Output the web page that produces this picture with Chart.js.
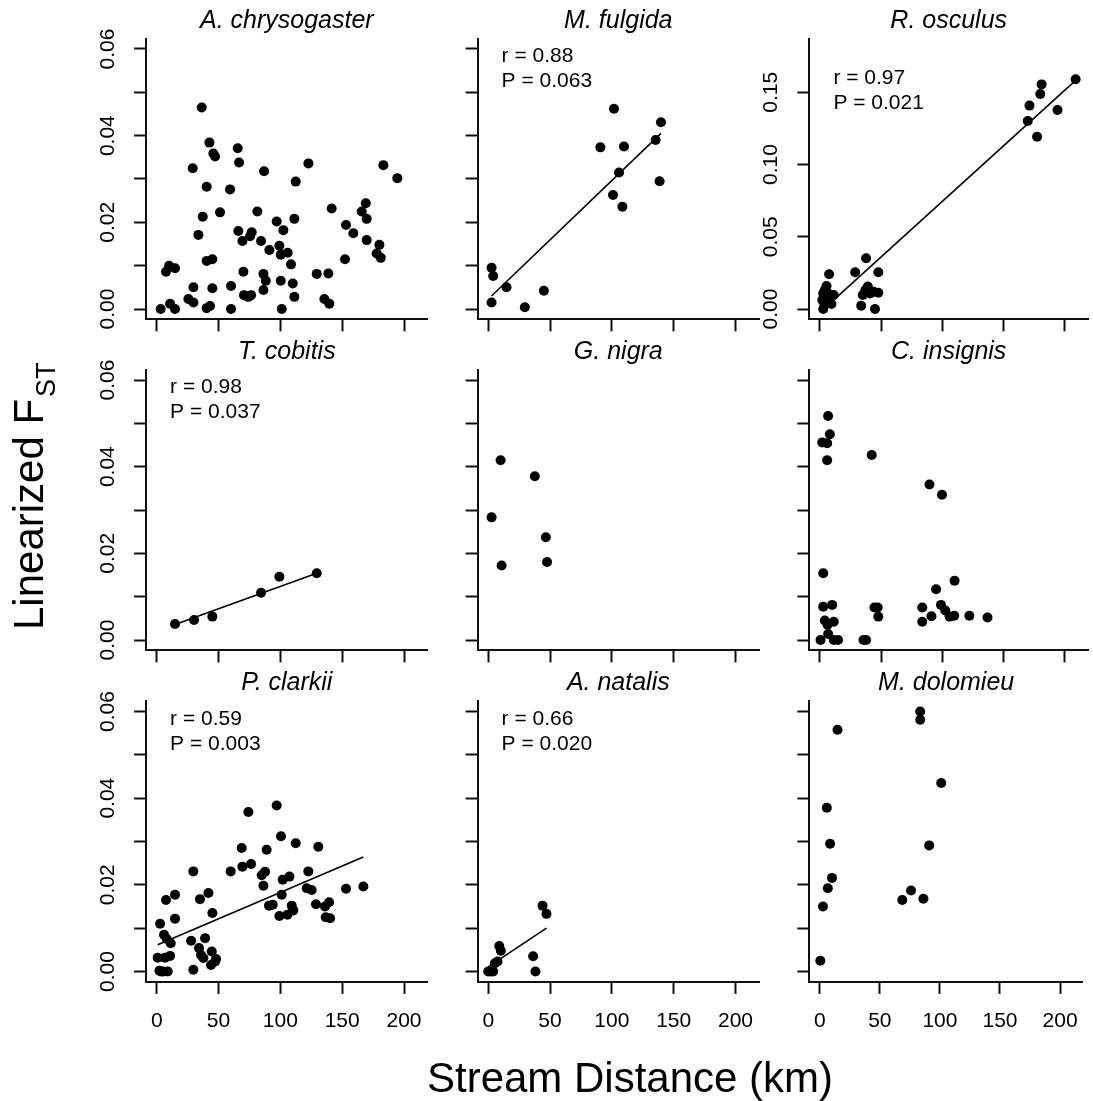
<!DOCTYPE html>
<html>
<head>
<meta charset="utf-8">
<script src="https://cdn.jsdelivr.net/npm/chart.js@4.4.0/dist/chart.umd.min.js"></script>
<style>
body { margin: 0; background: #fff; }
#wrap { position: relative; width: 1093px; height: 1101px; overflow: hidden; }
#wrap canvas { position: absolute; left: 0; top: 0; }
</style>
</head>
<body>
<div id="wrap"></div>
<script>
// ---- axis ticks ----
var distTicks = [0, 50, 100, 150, 200];
var distLabels = ['0', '50', '100', '150', '200'];
var fstTicks = [0, 0.01, 0.02, 0.03, 0.04, 0.05, 0.06];
var fstLabels = ['0.00', '', '0.02', '', '0.04', '', '0.06'];
var oscTicks = [0, 0.05, 0.10, 0.15];
var oscLabels = ['0.00', '0.05', '0.10', '0.15'];

// ---- panels ----
var speciesNames = ['A. chrysogaster', 'M. fulgida', 'R. osculus',
                    'T. cobitis', 'G. nigra', 'C. insignis',
                    'P. clarkii', 'A. natalis', 'M. dolomieu'];
var rValues = [null, 0.88, 0.97, 0.98, null, null, 0.59, 0.66, null];
var pValues = [null, 0.063, 0.021, 0.037, null, null, 0.003, 0.020, null];
var fitIntercepts = [null, 0.00226, -0.00235, 0.00208, null, null, 0.0061, 0.00105, null];
var fitSlopes = [null, 0.000274, 0.000769, 0.000103, null, null, 0.0001215, 0.00019, null];

// ---- data: stream distance (km) / linearized Fst ----
var chrysoKm = [3.2, 7.5, 10, 14.8, 10.8, 14.8, 25.6, 29.7, 29.7, 29.1, 36.4, 37.2, 33.7, 40.4, 42.6, 45.8, 47.2, 40.4, 45, 45,
  40.4, 43.1, 51.2, 59.3, 60.1, 60.1, 65.5, 66.6, 66, 69.3, 70.1, 70.6, 74.1, 76.3, 76.8, 75.5, 81.4, 84.4, 86.8, 86.3,
  88.2, 86.3, 91.1, 97, 99.2, 100.3, 102.4, 105.9, 100.3, 101.1, 108.6, 111.3, 112.4, 110, 111.3, 122.7, 129.4, 135.6, 139.6, 138.8,
  141.5, 152.3, 153.1, 159, 165.8, 169.1, 169.8, 169.8, 180.1, 177.9, 181.2, 183.3, 194.6];
var chrysoFst = [0.000, 0.0086, 0.0100, 0.0094, 0.0012, 0.000, 0.0023, 0.0050, 0.0015, 0.0325, 0.0465, 0.0213, 0.0171, 0.0282, 0.0384, 0.0359, 0.0352, 0.0111, 0.0115, 0.0048,
  0.0002, 0.0007, 0.0223, 0.0276, 0.0053, 0.000, 0.0371, 0.0338, 0.0180, 0.0157, 0.0086, 0.0032, 0.0028, 0.0032, 0.0177, 0.0168, 0.0225, 0.0157, 0.0318, 0.0081,
  0.0065, 0.0044, 0.0136, 0.0202, 0.0146, 0.0125, 0.0182, 0.0130, 0.0065, 0.000, 0.0103, 0.0208, 0.0294, 0.0059, 0.0028, 0.0336, 0.0081, 0.0023, 0.0012, 0.0082,
  0.0232, 0.0115, 0.0194, 0.0175, 0.0225, 0.0244, 0.0208, 0.0159, 0.0148, 0.0128, 0.0118, 0.0332, 0.0302];

var fulgidaKm = [2.7, 4, 2.7, 14.8, 29.6, 45, 90.7, 101.7, 109.8, 105.8, 100.9, 108.5, 135.4, 139.7, 138.6];
var fulgidaFst = [0.0095, 0.0076, 0.0015, 0.0050, 0.0004, 0.0042, 0.0373, 0.0462, 0.0375, 0.0315, 0.0263, 0.0236, 0.0390, 0.0431, 0.0295];

var osculusKm = [2.7, 1.9, 2.7, 4, 5.4, 7.5, 6.7, 9.4, 11.3, 9.4, 4.9, 3.5,
  28.8, 33.7, 35, 37.7, 37.2, 39.1, 41, 43.9, 47.7, 47.7, 45,
  171.2, 169.8, 177.4, 180, 181.1, 194.1, 208.9];
var osculusFst = [0.000, 0.0062, 0.0108, 0.0132, 0.0159, 0.0240, 0.0108, 0.0097, 0.0097, 0.0035, 0.0062, 0.0039,
  0.0254, 0.0023, 0.0097, 0.0351, 0.0132, 0.0155, 0.0108, 0.0120, 0.0113, 0.0254, 0.000,
  0.1408, 0.1302, 0.1193, 0.1488, 0.1555, 0.1378, 0.1590];

var cobitisKm = [14.8, 30.2, 45, 84.4, 99.2, 129.4];
var cobitisFst = [0.0037, 0.0046, 0.0054, 0.0109, 0.0146, 0.0154];

var nigraKm = [10, 37.7, 2.7, 46.6, 10.8, 47.6];
var nigraFst = [0.0415, 0.0378, 0.0283, 0.0237, 0.0172, 0.0180];

var insignisKm = [6.7, 8.1, 1.9, 5.9, 5.9, 42.3, 89.5, 99.7, 2.7, 2.7, 10, 4, 11.3, 6.2, 6.7, 0.5, 11.3, 14.8,
  35.6, 37.7, 44.5, 47.2, 47.7, 83.6, 83.6, 91.1, 94.9, 98.9, 102.4, 105.9, 109.7, 110, 122.1, 136.9];
var insignisFst = [0.0517, 0.0475, 0.0456, 0.0454, 0.0415, 0.0427, 0.0359, 0.0335, 0.0154, 0.0077, 0.0081, 0.0045, 0.0042, 0.0035, 0.0014, 0.000, 0.000, 0.000,
  0.000, 0.000, 0.0075, 0.0075, 0.0054, 0.0075, 0.0042, 0.0055, 0.0117, 0.0081, 0.0068, 0.0054, 0.0056, 0.0137, 0.0056, 0.0052];

var clarkiiKm = [0.8, 2.7, 2.2, 3.5, 5.4, 8.9, 6.7, 10.8, 5.9, 8.1, 11.3, 7.5, 14.8, 14.8, 29.6, 27.8, 29.6, 34.2, 35.8, 37.7,
  39.1, 35, 41.8, 45, 44.5, 43.9, 47.2, 48, 59.8, 68.7, 69.3, 76.3, 74.1, 84.9, 86.3, 87.6, 88.9, 90.8, 93.8, 97,
  99.2, 100.5, 101.1, 101.9, 107.3, 105.7, 109.2, 110.5, 112.4, 122.6, 121.3, 125.3, 128.8, 130.7, 136.1, 139.4, 136.7, 140.2, 153.1, 167.1];
var clarkiiFst = [0.0032, 0.0110, 0.0002, 0.000, 0.000, 0.000, 0.0032, 0.0036, 0.0085, 0.0075, 0.0065, 0.0165, 0.0177, 0.0122, 0.0231, 0.0071, 0.0004, 0.0054, 0.0038, 0.0031,
  0.0077, 0.0167, 0.0181, 0.0135, 0.0046, 0.0015, 0.0023, 0.0029, 0.0231, 0.0285, 0.0242, 0.0248, 0.0368, 0.0222, 0.0198, 0.0230, 0.0281, 0.0152, 0.0154, 0.0383,
  0.0128, 0.0312, 0.0177, 0.0212, 0.0219, 0.0131, 0.0152, 0.0141, 0.0296, 0.0231, 0.0192, 0.0188, 0.0155, 0.0288, 0.0150, 0.0160, 0.0125, 0.0123, 0.0191, 0.0196];

var natalisKm = [0, 2.2, 4, 5.4, 7.5, 8.9, 10.2, 36.3, 38.2, 43.9, 47.1];
var natalisFst = [0.000, 0.000, 0.000, 0.0019, 0.0023, 0.0059, 0.0048, 0.0035, 0.000, 0.0152, 0.0133];

var dolomieuKm = [0.5, 2.7, 6.7, 10.2, 8.6, 5.9, 14.8, 68.7, 76, 86.3, 91.1, 101.1, 83.6, 83.6];
var dolomieuFst = [0.0025, 0.0150, 0.0192, 0.0216, 0.0295, 0.0378, 0.0558, 0.0165, 0.0187, 0.0168, 0.0291, 0.0435, 0.0600, 0.0581];

var panelKm = [chrysoKm, fulgidaKm, osculusKm, cobitisKm, nigraKm, insignisKm, clarkiiKm, natalisKm, dolomieuKm];
var panelFst = [chrysoFst, fulgidaFst, osculusFst, cobitisFst, nigraFst, insignisFst, clarkiiFst, natalisFst, dolomieuFst];

// ---- layout (pixels) ----
var W = 1093, H = 1101;
var FAM = "'Liberation Sans', Arial, Helvetica, sans-serif";
var colLeft = [146.1, 477.6, 809.4];
var colRight = [427.5, 759.0, 1090.8];
var rowTop = [38.6, 369.6, 701.1];
var rowBottom = [319.4, 650.4, 981.9];
var AXW = 60;
var INK = '#111';

Chart.defaults.font.family = FAM;
Chart.defaults.color = '#000';

function pairs(xs, ys) {
  var out = [];
  for (var i = 0; i < xs.length; i++) out.push({x: xs[i], y: ys[i]});
  return out;
}

function fitLine(i) {
  var xs = panelKm[i];
  var lo = Math.min.apply(null, xs), hi = Math.max.apply(null, xs);
  return [{x: lo, y: fitIntercepts[i] + fitSlopes[i] * lo},
          {x: hi, y: fitIntercepts[i] + fitSlopes[i] * hi}];
}

function decor(i, yVals, yText, showY, statDy) {
  return {
    id: 'decor' + i,
    afterDraw: function(chart) {
      var ctx = chart.ctx, a = chart.chartArea, ys = chart.scales.y;
      ctx.save();
      ctx.fillStyle = '#000';
      ctx.font = 'italic 25px ' + FAM;
      ctx.textAlign = 'center';
      ctx.textBaseline = 'alphabetic';
      ctx.fillText(speciesNames[i], (a.left + a.right) / 2, a.top - 11);
      if (rValues[i] !== null) {
        ctx.font = '21px ' + FAM;
        ctx.textAlign = 'left';
        ctx.fillText('r = ' + rValues[i].toFixed(2), a.left + 24, a.top + statDy);
        ctx.fillText('P = ' + pValues[i].toFixed(3), a.left + 24, a.top + statDy + 25);
      }
      if (showY) {
        ctx.font = '21px ' + FAM;
        ctx.textAlign = 'center';
        ctx.textBaseline = 'middle';
        yVals.forEach(function(v, k) {
          if (!yText[k]) return;
          var py = ys.getPixelForValue(v);
          ctx.save();
          ctx.translate(a.left - 38, py);
          ctx.rotate(-Math.PI / 2);
          ctx.fillText(yText[k], 0, 0);
          ctx.restore();
        });
      }
      if (i === 0) {
        // outer axis titles
        ctx.font = '42px ' + FAM;
        ctx.textAlign = 'center';
        ctx.textBaseline = 'alphabetic';
        ctx.fillText('Stream Distance (km)', 630, 1092);
        ctx.save();
        ctx.translate(43, 630);
        ctx.rotate(-Math.PI / 2);
        ctx.textAlign = 'left';
        ctx.font = '42px ' + FAM;
        var main = 'Linearized F';
        ctx.fillText(main, 0, 0);
        var mw = ctx.measureText(main).width;
        ctx.font = '27px ' + FAM;
        ctx.fillText('ST', mw + 2, 12);
        ctx.restore();
      }
      ctx.restore();
    }
  };
}

function makePanel(i) {
  var col = i % 3, row = Math.floor(i / 3);
  var isOsc = (i === 2);
  var yVals = isOsc ? oscTicks : fstTicks;
  var yText = isOsc ? oscLabels : fstLabels;
  var yMin = isOsc ? -0.0072 : -0.0024;
  var yMax = isOsc ? 0.1872 : 0.0624;
  var showY = (col === 0) || isOsc;
  var statDy = isOsc ? 45 : 23.5;

  var canvas = document.createElement('canvas');
  canvas.width = W;
  canvas.height = H;
  document.getElementById('wrap').appendChild(canvas);

  var datasets = [{
    data: pairs(panelKm[i], panelFst[i]),
    pointRadius: 5,
    pointBackgroundColor: '#000',
    pointBorderWidth: 0,
    showLine: false
  }];
  if (fitSlopes[i] !== null) {
    datasets.push({
      data: fitLine(i),
      showLine: true,
      borderColor: '#000',
      borderWidth: 1.6,
      pointRadius: 0
    });
  }

  var axisGrid = {drawOnChartArea: false, drawTicks: true, tickLength: 12, tickWidth: 2, tickColor: INK};
  var axisBorder = {display: true, color: INK, width: 2};

  new Chart(canvas, {
    type: 'scatter',
    data: {datasets: datasets},
    options: {
      responsive: false,
      animation: false,
      devicePixelRatio: 1,
      events: [],
      layout: {padding: {
        left: colLeft[col] - AXW,
        right: W - colRight[col],
        top: rowTop[row],
        bottom: H - rowBottom[row] - AXW
      }},
      plugins: {legend: {display: false}, tooltip: {enabled: false}},
      scales: {
        x: {
          type: 'linear', min: -8.6, max: 219,
          afterBuildTicks: function(s) { s.ticks = distTicks.map(function(v) { return {value: v}; }); },
          afterFit: function(s) { s.height = AXW; },
          ticks: {
            display: row === 2,
            font: {size: 21},
            color: '#000',
            padding: 15,
            maxRotation: 0,
            callback: function(v, k) { return distLabels[k]; }
          },
          grid: axisGrid,
          border: axisBorder
        },
        y: {
          type: 'linear', min: yMin, max: yMax,
          afterBuildTicks: function(s) { s.ticks = yVals.map(function(v) { return {value: v}; }); },
          afterFit: function(s) { s.width = AXW; },
          ticks: {display: false},
          grid: axisGrid,
          border: axisBorder
        }
      }
    },
    plugins: [decor(i, yVals, yText, showY, statDy)]
  });
}

for (var p = 0; p < 9; p++) makePanel(p);
</script>
</body>
</html>
